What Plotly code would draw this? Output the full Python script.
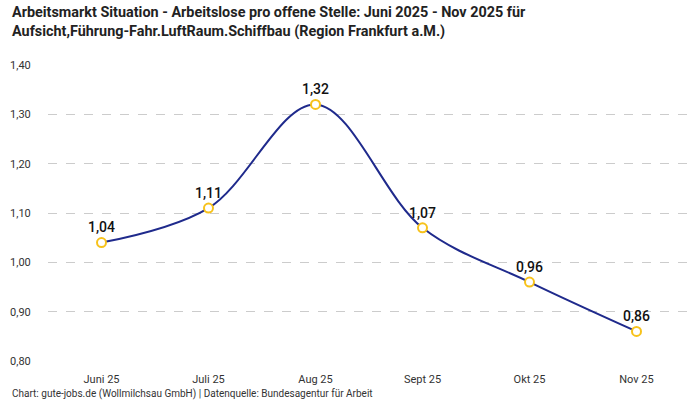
import plotly.graph_objects as go

months = ["Juni 25", "Juli 25", "Aug 25", "Sept 25", "Okt 25", "Nov 25"]
values = [1.04, 1.11, 1.32, 1.07, 0.96, 0.86]
labels = ["1,04", "1,11", "1,32", "1,07", "0,96", "0,86"]

FONT = "Roboto"

fig = go.Figure()
fig.add_trace(go.Scatter(
    x=months, y=values,
    mode="lines+markers+text",
    line=dict(color="#1f2a8c", width=2, shape="spline", smoothing=1.0),
    marker=dict(size=9, color="white", line=dict(color="#f7c21b", width=2)),
    text=labels, textposition="top center",
    textfont=dict(family=FONT, size=14, color="#111111", weight=500),
    cliponaxis=False,
    hoverinfo="skip",
))

fig.update_layout(
    width=700, height=400,
    margin=dict(l=48, r=10, t=65, b=39),
    paper_bgcolor="white", plot_bgcolor="white",
    separators=",.",
    showlegend=False,
    font=dict(family=FONT, color="#333333", size=11),
    annotations=[
        dict(
            text="<b>Arbeitsmarkt Situation - Arbeitslose pro offene Stelle: Juni 2025 - Nov 2025 für<br>Aufsicht,Führung-Fahr.LuftRaum.Schiffbau (Region Frankfurt a.M.)</b>",
            xref="paper", yref="paper", x=-0.059, y=1.0, yshift=63, xanchor="left", yanchor="top",
            align="left", showarrow=False,
            font=dict(family=FONT, size=14.4, color="#222222"),
        ),
        dict(
            text="Chart: gute-jobs.de (Wollmilchsau GmbH) | Datenquelle: Bundesagentur für Arbeit",
            xref="paper", yref="paper", x=-0.059, y=0, yshift=-25, xanchor="left", yanchor="top",
            showarrow=False, font=dict(family=FONT, size=10, color="#333333"),
        ),
    ],
)
fig.update_xaxes(
    range=[-0.5, 5.5],
    showgrid=False, zeroline=False, showline=False,
    ticks="outside", ticklen=8, tickcolor="rgba(0,0,0,0)",
    tickfont=dict(size=11, color="#333333"),
)
fig.update_yaxes(
    range=[0.8, 1.4], dtick=0.1, tickformat=".2f",
    showgrid=True, gridcolor="#cccccc", griddash="dash", gridwidth=1,
    zeroline=False, showline=False,
    ticks="outside", ticklen=14, tickcolor="rgba(0,0,0,0)",
    tickfont=dict(size=11, color="#333333"),
)

fig.write_html("out.html", config={"displayModeBar": False},
               post_script="document.body.style.margin='0';")
